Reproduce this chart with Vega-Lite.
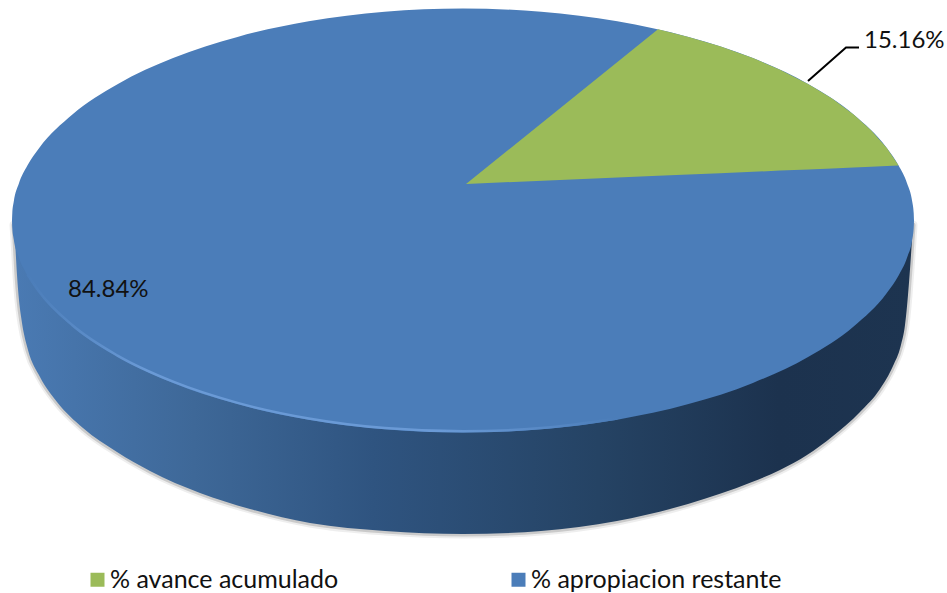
{"$schema":"https://vega.github.io/schema/vega-lite/v6.json","width":947,"height":593,"autosize":"none","padding":0,"background":"white","config":{"view":{"stroke":null},"font":"Lato"},
"datasets":{
"top":[{"category":"% apropiacion restante","x":12,"y":220.5,"y2":220.5},{"category":"% apropiacion restante","x":12.3,"y":213.1,"y2":227.9},{"category":"% apropiacion restante","x":13.7,"y":202,"y2":239},{"category":"% apropiacion restante","x":18.8,"y":183.7,"y2":257.3},{"category":"% apropiacion restante","x":27.4,"y":165.6,"y2":275.4},{"category":"% apropiacion restante","x":39.2,"y":148,"y2":293},{"category":"% apropiacion restante","x":72.4,"y":114.5,"y2":326.5},{"category":"% apropiacion restante","x":117.5,"y":84.2,"y2":356.8},{"category":"% apropiacion restante","x":173.1,"y":58.1,"y2":382.9},{"category":"% apropiacion restante","x":237.5,"y":36.9,"y2":404.1},{"category":"% apropiacion restante","x":308.7,"y":21.3,"y2":419.7},{"category":"% apropiacion restante","x":384.7,"y":11.7,"y2":429.3},{"category":"% apropiacion restante","x":463,"y":8.5,"y2":432.5},{"category":"% apropiacion restante","x":541.3,"y":11.7,"y2":429.3},{"category":"% apropiacion restante","x":617.3,"y":21.3,"y2":419.7},{"category":"% apropiacion restante","x":688.5,"y":36.9,"y2":404.1},{"category":"% apropiacion restante","x":752.9,"y":58.1,"y2":382.9},{"category":"% apropiacion restante","x":808.5,"y":84.2,"y2":356.8},{"category":"% apropiacion restante","x":853.6,"y":114.5,"y2":326.5},{"category":"% apropiacion restante","x":886.8,"y":148,"y2":293},{"category":"% apropiacion restante","x":898.6,"y":165.6,"y2":275.4},{"category":"% apropiacion restante","x":907.2,"y":183.7,"y2":257.3},{"category":"% apropiacion restante","x":912.3,"y":202,"y2":239},{"category":"% apropiacion restante","x":913.7,"y":213.1,"y2":227.9},{"category":"% apropiacion restante","x":914,"y":220.5,"y2":220.5}],
"wedge":[{"category":"% avance acumulado","x":466,"y":184,"y2":184},{"category":"% avance acumulado","x":658,"y":29.3,"y2":175.8},{"category":"% avance acumulado","x":688.5,"y":36.9,"y2":174.5},{"category":"% avance acumulado","x":720,"y":46.3,"y2":173.2},{"category":"% avance acumulado","x":752.9,"y":58.1,"y2":171.8},{"category":"% avance acumulado","x":780,"y":69.7,"y2":170.6},{"category":"% avance acumulado","x":808.5,"y":84.2,"y2":169.4},{"category":"% avance acumulado","x":832,"y":98.6,"y2":168.4},{"category":"% avance acumulado","x":853.6,"y":114.5,"y2":167.5},{"category":"% avance acumulado","x":871,"y":130.2,"y2":166.8},{"category":"% avance acumulado","x":886.8,"y":148,"y2":166.1},{"category":"% avance acumulado","x":898.6,"y":165.6,"y2":165.6}],
"wall":[{"x":14,"y":225,"y2":220},{"x":15,"y":240,"y2":220},{"x":17,"y":275,"y2":220},{"x":19,"y":300,"y2":220},{"x":22,"y":323,"y2":220},{"x":28,"y":350,"y2":220},{"x":40,"y":377,"y2":220},{"x":57,"y":402,"y2":220},{"x":83,"y":428,"y2":220},{"x":117,"y":452,"y2":220},{"x":150,"y":471,"y2":220},{"x":200,"y":493,"y2":220},{"x":250,"y":509,"y2":220},{"x":310,"y":523,"y2":220},{"x":385,"y":531,"y2":220},{"x":463,"y":534,"y2":220},{"x":541,"y":531,"y2":220},{"x":617,"y":521,"y2":220},{"x":688,"y":504,"y2":220},{"x":752,"y":482,"y2":220},{"x":780,"y":470,"y2":220},{"x":807,"y":455,"y2":220},{"x":833,"y":436,"y2":220},{"x":860,"y":412,"y2":220},{"x":880,"y":389,"y2":220},{"x":893,"y":366,"y2":220},{"x":900.7,"y":346,"y2":220},{"x":905,"y":325,"y2":220},{"x":908,"y":295,"y2":220},{"x":911,"y":255,"y2":220},{"x":913,"y":225,"y2":220}],
"rim":[{"x":27.4,"y":274.2},{"x":39.2,"y":291.8},{"x":72.4,"y":325.3},{"x":117.5,"y":355.6},{"x":173.1,"y":381.7},{"x":237.5,"y":402.9},{"x":308.7,"y":418.5},{"x":384.7,"y":428.1},{"x":463,"y":431.3},{"x":541.3,"y":428.1},{"x":617.3,"y":418.5}],
"leader":[{"x":808,"y":81},{"x":846,"y":47.5},{"x":859,"y":47.5}],
"shares":[{"category":"% avance acumulado","share":0.1516,"x":864,"y":48},{"category":"% apropiacion restante","share":0.8484,"x":68,"y":297}]
},
"encoding":{"x":{"field":"x","type":"quantitative","axis":null,"scale":{"domain":[0,947],"nice":false,"zero":false}},"y":{"field":"y","type":"quantitative","axis":null,"scale":{"domain":[593,0],"nice":false,"zero":false}}},
"layer":[
{"data":{"name":"wall"},"mark":{"type":"line","stroke":"#777777","strokeWidth":9,"opacity":0.12,"interpolate":"monotone","strokeCap":"round"}},
{"data":{"name":"wall"},"mark":{"type":"line","stroke":"#777777","strokeWidth":5,"opacity":0.3,"interpolate":"monotone","strokeCap":"round"}},
{"data":{"name":"wall"},"mark":{"type":"area","interpolate":"monotone","fill":{"gradient":"linear","x1":0,"y1":0,"x2":1,"y2":0,"stops":[{"offset":0,"color":"#4a7ab3"},{"offset":0.2,"color":"#3e6898"},{"offset":0.4,"color":"#2f5480"},{"offset":0.65,"color":"#254364"},{"offset":0.85,"color":"#1c324e"},{"offset":1,"color":"#1d3450"}]}},"encoding":{"y2":{"field":"y2"}}},
{"data":{"name":"top"},"mark":{"type":"area","interpolate":"monotone"},"encoding":{"y2":{"field":"y2"},"color":{"field":"category","type":"nominal","scale":{"domain":["% avance acumulado","% apropiacion restante"],"range":["#9bbb59","#4b7db9"]},"legend":{"title":null,"orient":"none","legendX":85,"legendY":567,"direction":"horizontal","columns":2,"columnPadding":167,"symbolType":"square","symbolSize":196,"symbolStrokeWidth":0,"labelFont":"Lato","labelFontSize":25,"labelColor":"#111111","labelLimit":400,"labelOffset":0}}}},
{"data":{"name":"wedge"},"mark":{"type":"area","interpolate":"linear"},"encoding":{"y2":{"field":"y2"},"color":{"field":"category","type":"nominal"}}},
{"data":{"name":"rim"},"mark":{"type":"line","strokeWidth":2.5,"interpolate":"monotone","stroke":{"gradient":"linear","x1":0,"y1":0,"x2":1,"y2":0,"stops":[{"offset":0,"color":"#4b7db9"},{"offset":0.2,"color":"#6a9ad6"},{"offset":0.7,"color":"#6a9ad6"},{"offset":1,"color":"#4b7db9"}]}}},
{"data":{"name":"leader"},"mark":{"type":"line","stroke":"#000000","strokeWidth":2}},
{"data":{"name":"shares"},"mark":{"type":"text","align":"left","baseline":"alphabetic","fontSize":24,"font":"Lato","color":"#111111"},"encoding":{"text":{"field":"share","type":"quantitative","format":".2%"}}}
]}
